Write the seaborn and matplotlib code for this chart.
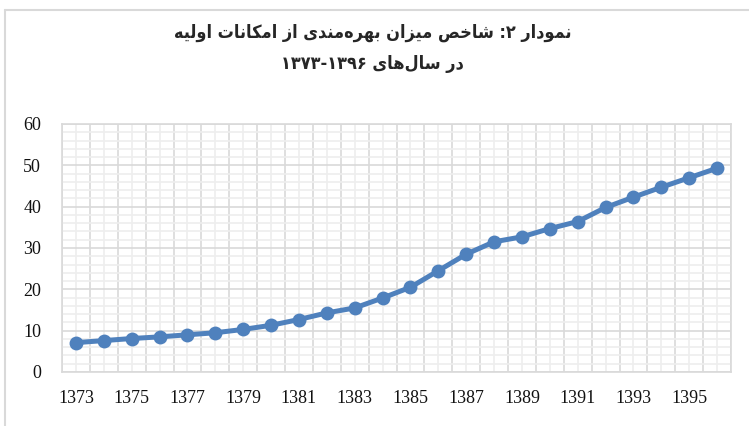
import re
import matplotlib
matplotlib.use("Agg")
import matplotlib.pyplot as plt
import seaborn as sns
import pandas as pd
from matplotlib.lines import Line2D
from matplotlib.ticker import MultipleLocator

years = ["1373", "1374", "1375", "1376", "1377", "1378", "1379", "1380",
         "1381", "1382", "1383", "1384", "1385", "1386", "1387", "1388",
         "1389", "1390", "1391", "1392", "1393", "1394", "1395", "1396"]
values = [7.1, 7.6, 8.1, 8.5, 9.0, 9.5, 10.3, 11.3, 12.7, 14.3, 15.5, 17.9,
          20.5, 24.5, 28.5, 31.5, 32.7, 34.7, 36.4, 39.8, 42.3, 44.7, 47.0, 49.3]
title_line1 = "نمودار ۲: شاخص میزان بهره\u200cمندی از امکانات اولیه"
title_line2 = "در سال\u200cهای ۱۳۷۳-۱۳۹۶"

# matplotlib has no arabic shaping, so do a small one by hand
FORMS = {
    "\u0627": (0xFE8D, 0xFE8E, None, None),
    "\u0628": (0xFE8F, 0xFE90, 0xFE91, 0xFE92),
    "\u062A": (0xFE95, 0xFE96, 0xFE97, 0xFE98),
    "\u062E": (0xFEA5, 0xFEA6, 0xFEA7, 0xFEA8),
    "\u062F": (0xFEA9, 0xFEAA, None, None),
    "\u0631": (0xFEAD, 0xFEAE, None, None),
    "\u0632": (0xFEAF, 0xFEB0, None, None),
    "\u0633": (0xFEB1, 0xFEB2, 0xFEB3, 0xFEB4),
    "\u0634": (0xFEB5, 0xFEB6, 0xFEB7, 0xFEB8),
    "\u0635": (0xFEB9, 0xFEBA, 0xFEBB, 0xFEBC),
    "\u0644": (0xFEDD, 0xFEDE, 0xFEDF, 0xFEE0),
    "\u0645": (0xFEE1, 0xFEE2, 0xFEE3, 0xFEE4),
    "\u0646": (0xFEE5, 0xFEE6, 0xFEE7, 0xFEE8),
    "\u0647": (0xFEE9, 0xFEEA, 0xFEEB, 0xFEEC),
    "\u0648": (0xFEED, 0xFEEE, None, None),
    "\u06CC": (0xFBFC, 0xFBFD, 0xFBFE, 0xFBFF),
    "\u06A9": (0xFB8E, 0xFB8F, 0xFB90, 0xFB91),
}


def shape_rtl(text):
    out = []
    for i, ch in enumerate(text):
        if ch not in FORMS:
            if ch != "\u200c":
                out.append(ch)
            continue
        prev = text[i - 1] if i > 0 else ""
        nxt = text[i + 1] if i + 1 < len(text) else ""
        join_prev = prev in FORMS and FORMS[prev][2] is not None
        join_next = nxt in FORMS and FORMS[ch][2] is not None
        iso, fin, ini, med = FORMS[ch]
        if join_prev and join_next:
            code = med
        elif join_prev:
            code = fin
        elif join_next:
            code = ini
        else:
            code = iso
        out.append(chr(code))
    vis = "".join(out)[::-1]
    return re.sub("[۰-۹\\-]+", lambda m: m.group(0)[::-1], vis)


df = pd.DataFrame({"year": years, "value": values})

sns.set_style("white")
plt.rcParams["font.family"] = ["Liberation Serif", "DejaVu Serif"]

fig = plt.figure(figsize=(7.49, 4.26), dpi=100)
ax = fig.add_axes([62 / 749, 1 - 372 / 426, 669 / 749, 248 / 426])

sns.lineplot(data=df, x="year", y="value", sort=False, ax=ax, color="#4f81bd",
             linewidth=3.6, marker="o", markersize=10, markeredgewidth=0, zorder=3)

ax.set_xlim(-0.5, len(years) - 0.5)
ax.set_ylim(0, 60)
ax.set_xticks(range(len(years)))
ax.set_xticklabels([y if i % 2 == 0 else "" for i, y in enumerate(years)])
ax.xaxis.set_minor_locator(MultipleLocator(1, offset=0.5))
ax.yaxis.set_major_locator(MultipleLocator(10))
ax.yaxis.set_minor_locator(MultipleLocator(2))

ax.grid(which="minor", axis="x", color="#d9d9d9", linewidth=1.2)
ax.grid(which="major", axis="x", color="#eeeeee", linewidth=1.2)
ax.grid(which="major", axis="y", color="#d9d9d9", linewidth=1.2)
ax.grid(which="minor", axis="y", color="#eeeeee", linewidth=1.2)
ax.set_axisbelow(True)
ax.tick_params(which="both", length=0, labelsize=13, colors="#111111")
ax.tick_params(axis="y", pad=15)
ax.tick_params(axis="x", pad=13)
for s in ax.spines.values():
    s.set_color("#d9d9d9")
    s.set_linewidth(1.2)
ax.set_xlabel("")
ax.set_ylabel("")

fig.text(0.497, 1 - 33 / 426, shape_rtl(title_line1), ha="center", va="center",
         fontsize=13, fontweight="bold", fontstretch="condensed", family=["DejaVu Sans"])
fig.text(0.497, 1 - 64 / 426, shape_rtl(title_line2), ha="center", va="center",
         fontsize=13, fontweight="bold", fontstretch="condensed", family=["DejaVu Sans"])

fig.add_artist(Line2D([5 / 749, 5 / 749], [0, 1 - 10 / 426], color="#d9d9d9", lw=1.5))
fig.add_artist(Line2D([5 / 749, 1], [1 - 10 / 426, 1 - 10 / 426], color="#d9d9d9", lw=1.5))

fig.savefig("out.png", dpi=100)
